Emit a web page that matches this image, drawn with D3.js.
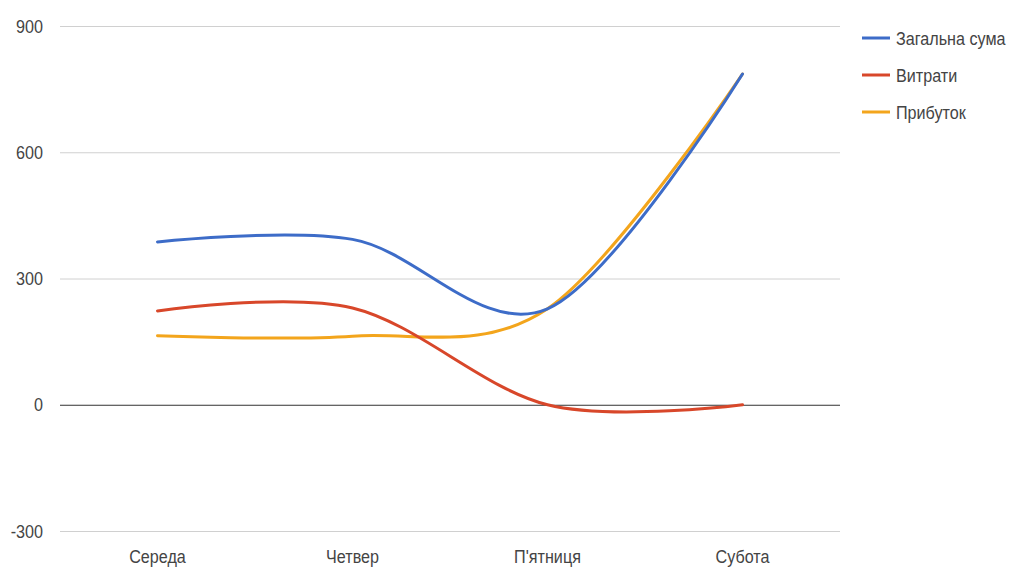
<!DOCTYPE html>
<html>
<head>
<meta charset="utf-8">
<script src="https://cdn.jsdelivr.net/npm/d3@7"></script>
<style>
  body { margin: 0; background: #fff; }
  text { font-family: "Liberation Sans", Arial, sans-serif; fill: #444; }
</style>
</head>
<body>
<div id="chart"></div>
<script>
// data
var days = ["Середа", "Четвер", "П'ятниця", "Субота"];
var seriesNames = ["Загальна сума", "Витрати", "Прибуток"];
var total = [387, 393, 228, 786];
var expenses = [223, 230, 0, 0];
var profit = [164, 163, 228, 786];
var yTicks = [-300, 0, 300, 600, 900];
var colors = ["#3d6cc8", "#d8472a", "#f3a51c"];

var svgWidth = 1021;
var svgHeight = 571;

var svg = d3.select("#chart")
    .append("svg")
    .attr("width", svgWidth)
    .attr("height", svgHeight);

var xScale = d3.scaleBand()
    .domain(days)
    .range([60, 840]);

var yScale = d3.scaleLinear()
    .domain([-300, 900])
    .range([531, 26]);

// grid lines, zero line darker
svg.append("g").selectAll("line")
    .data(yTicks)
    .enter()
    .append("line")
    .attr("x1", 60)
    .attr("x2", 840)
    .attr("y1", d => yScale(d) + 0.5)
    .attr("y2", d => yScale(d) + 0.5)
    .attr("stroke", d => d === 0 ? "#333" : "#d0d0d0")
    .attr("stroke-width", 1);

// y labels
svg.append("g").selectAll("text")
    .data(yTicks)
    .enter()
    .append("text")
    .attr("transform", d => `translate(43,${yScale(d)}) scale(0.95,1.1)`)
    .attr("dy", "0.35em")
    .attr("text-anchor", "end")
    .style("font-size", "17px")
    .text(d => d);

// x labels
var xAxis = d3.axisBottom(xScale).tickSize(0).tickPadding(0);
var xg = svg.append("g")
    .attr("transform", "translate(0,548)")
    .call(xAxis);
xg.select(".domain").remove();
xg.selectAll("text")
    .attr("y", 0)
    .attr("dy", 0)
    .attr("transform", "translate(0,15) scale(0.95,1.1)")
    .style("font-size", "17px")
    .style("font-family", "'Liberation Sans', Arial, sans-serif")
    .attr("fill", "#444");

var line = d3.line()
    .x((d, i) => xScale(days[i]) + xScale.bandwidth() / 2)
    .y(d => yScale(d))
    .curve(d3.curveCardinal.tension(0));

svg.append("g").selectAll("path")
    .data([profit, expenses, total])
    .enter()
    .append("path")
    .attr("d", d => line(d))
    .attr("fill", "none")
    .attr("stroke", (d, i) => colors[2 - i])
    .attr("stroke-width", 3)
    .attr("stroke-linecap", "round");

// legend
var legend = svg.append("g").selectAll("g")
    .data(seriesNames)
    .enter()
    .append("g")
    .attr("transform", (d, i) => `translate(0,${38 + i * 37})`);

legend.append("line")
    .attr("x1", 862)
    .attr("x2", 890)
    .attr("stroke", (d, i) => colors[i])
    .attr("stroke-width", 3);

legend.append("text")
    .attr("transform", "translate(896,0) scale(0.95,1.1)")
    .attr("dy", "0.35em")
    .style("font-size", "17px")
    .text(d => d);
</script>
</body>
</html>
